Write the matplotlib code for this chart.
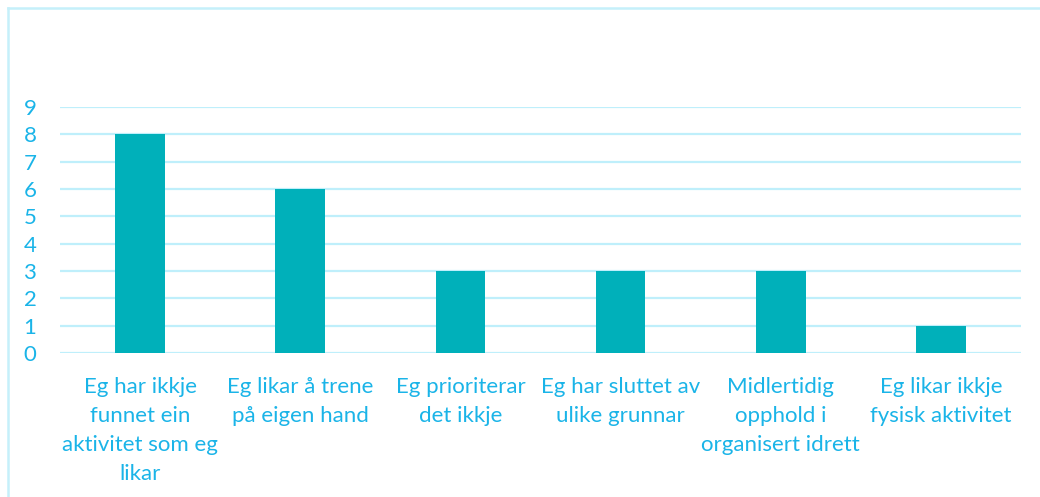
import matplotlib
matplotlib.use("Agg")
import matplotlib.pyplot as plt
from matplotlib.lines import Line2D

categories = [
    "Eg har ikkje\nfunnet ein\naktivitet som eg\nlikar",
    "Eg likar å trene\npå eigen hand",
    "Eg prioriterar\ndet ikkje",
    "Eg har sluttet av\nulike grunnar",
    "Midlertidig\nopphold i\norganisert idrett",
    "Eg likar ikkje\nfysisk aktivitet",
]
values = [8, 6, 3, 3, 3, 1]
yticks = list(range(0, 10))

bar_color = "#00B0BA"
text_color = "#1AB4E8"
grid_color = "#BFEFFB"

plt.rcParams['font.family'] = ['Lato', 'DejaVu Sans']

fig = plt.figure(figsize=(10.4, 4.97), dpi=100)
ax = fig.add_axes([60/1040, 1-353/497, 961/1040, 246/497])

x = list(range(len(categories)))
ax.bar(x, values, width=0.31, color=bar_color, zorder=3)
ax.set_xlim(-0.5, len(categories) - 0.5)
ax.set_ylim(0, 9)
ax.set_yticks(yticks)
ax.set_yticklabels([str(v) for v in yticks])
ax.set_xticks(x)
ax.set_xticklabels(categories, linespacing=1.57)
for sp in ax.spines.values():
    sp.set_visible(False)
ax.yaxis.grid(True, color=grid_color, linewidth=1.6, zorder=0)
ax.tick_params(axis='both', length=0, colors=text_color)
ax.tick_params(axis='y', pad=17, labelsize=16)
ax.tick_params(axis='x', pad=17, labelsize=16)

# outer chart border (top and left)
fig.add_artist(Line2D([8/1040, 1], [1-8/497, 1-8/497], color="#C5F0FA", linewidth=1.8, transform=fig.transFigure))
fig.add_artist(Line2D([8/1040, 8/1040], [0, 1-8/497], color="#C5F0FA", linewidth=1.8, transform=fig.transFigure))

fig.savefig("out.png", dpi=100)
